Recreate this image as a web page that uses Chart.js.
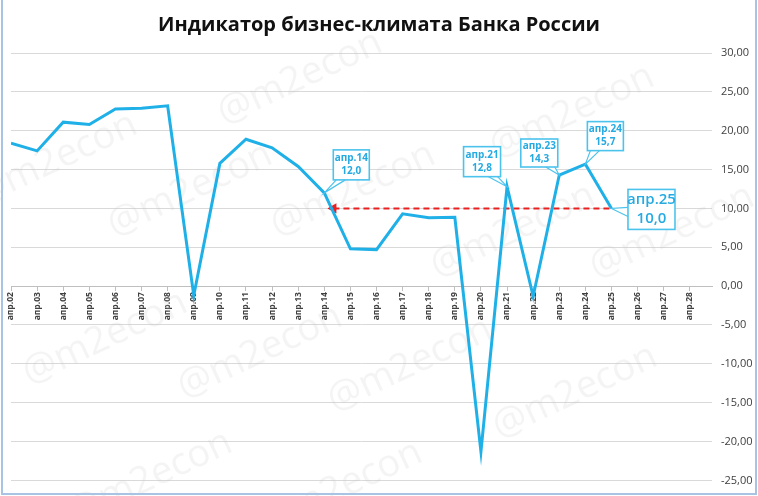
<!DOCTYPE html>
<html>
<head>
<meta charset="utf-8">
<script src="https://cdn.jsdelivr.net/npm/chart.js@4.4.1/dist/chart.umd.min.js"></script>
<style>
  html, body { margin: 0; padding: 0; background: #fff; }
</style>
</head>
<body>
<canvas id="myChart" width="758" height="496"></canvas>
<script>
// годы (апрель каждого года) и значения индикатора
var years = [2, 3, 4, 5, 6, 7, 8, 9, 10, 11, 12, 13, 14, 15, 16, 17, 18, 19, 20, 21, 22, 23, 24, 25];
var values = [18.4, 17.4, 21.1, 20.8, 22.8, 22.9, 23.2, -1.2, 15.8, 18.9, 17.8, 15.4, 12.0,
              4.8, 4.7, 9.3, 8.8, 8.85, -21.3, 12.8, -1.3, 14.3, 15.7, 10.0];
var tickYears = [2, 3, 4, 5, 6, 7, 8, 9, 10, 11, 12, 13, 14, 15, 16, 17, 18, 19, 20, 21, 22, 23, 24, 25, 26, 27, 28];
// красная пунктирная линия уровня
var refFrom = [14.35, 10.0];
var refTo = [25, 10.0];
// подписи-выноски
var calloutYears = [14, 21, 23, 24, 25];

var title = 'Индикатор бизнес-климата Банка России';
var lineColor = '#1fb0e8';

function pad(n) { return (n < 10 ? '0' : '') + n; }
function fmt(v, d) { return v.toFixed(d).replace('.', ','); }

// положение выносок относительно точки (смещение центра, размеры)
var calloutStyle = {
    14: { dx: 27, dy: -28, w: 36, h: 30, side: 'bottom', font: 10 },
    21: { dx: -25, dy: -25, w: 37, h: 30, side: 'bottom', font: 10 },
    23: { dx: -20, dy: -22, w: 37, h: 28, side: 'bottom', font: 10 },
    24: { dx: 20, dy: -28, w: 36, h: 29, side: 'bottom', font: 10 },
    25: { dx: 40, dy: 1, w: 47, h: 40, side: 'left', font: 15 }
};

var watermarks = [[300, 78], [55, 160], [190, 190], [353, 190], [572, 112], [513, 231], [672, 232],
                  [105, 338], [260, 352], [410, 365], [150, 478], [340, 488], [575, 392]];

var bgPlugin = {
    id: 'bg',
    beforeDatasetsDraw: function (chart) {
        var ctx = chart.ctx;
        ctx.save();
        ctx.fillStyle = 'rgba(200,200,200,0.2)';
        ctx.font = '38px "Open Sans", sans-serif';
        ctx.textAlign = 'center';
        ctx.textBaseline = 'middle';
        watermarks.forEach(function (w) {
            ctx.save();
            ctx.translate(w[0], w[1]);
            ctx.rotate(-25 * Math.PI / 180);
            ctx.fillText('@m2econ', 0, 0);
            ctx.restore();
        });
        ctx.restore();
    },
    afterDraw: function (chart) {
        var ctx = chart.ctx;
        ctx.save();
        // заголовок
        ctx.fillStyle = '#111';
        ctx.font = 'bold 20px "Open Sans", sans-serif';
        ctx.textAlign = 'center';
        ctx.textBaseline = 'middle';
        ctx.fillText(title, 379, 25);
        // рамка
        ctx.strokeStyle = '#a9c3e3';
        ctx.lineWidth = 2;
        ctx.beginPath();
        ctx.moveTo(2, 0); ctx.lineTo(2, 494); ctx.lineTo(756, 494); ctx.lineTo(756, 0);
        ctx.stroke();
        ctx.restore();
    }
};

var calloutPlugin = {
    id: 'callouts',
    afterDatasetsDraw: function (chart) {
        var ctx = chart.ctx, xs = chart.scales.x, ys = chart.scales.y;
        ctx.save();
        calloutYears.forEach(function (yr) {
            var c = calloutStyle[yr];
            var v = values[years.indexOf(yr)];
            var px = xs.getPixelForValue(yr), py = ys.getPixelForValue(v);
            var cx = px + c.dx, cy = py + c.dy;
            var bx = cx - c.w / 2, by = cy - c.h / 2;
            var a, b;
            if (c.side === 'bottom') {
                var sx = Math.min(Math.max(px - 4, bx + 3), bx + c.w - 12);
                a = [sx, by + c.h]; b = [sx + 9, by + c.h];
            } else {
                a = [bx, cy - 2]; b = [bx, cy + 7];
            }
            ctx.strokeStyle = '#4cc3ec';
            ctx.lineWidth = 1.2;
            ctx.fillStyle = '#fff';
            ctx.beginPath();
            ctx.moveTo(a[0], a[1]); ctx.lineTo(px, py); ctx.lineTo(b[0], b[1]); ctx.closePath();
            ctx.fill();
            ctx.beginPath();
            ctx.moveTo(a[0], a[1]); ctx.lineTo(px, py); ctx.lineTo(b[0], b[1]);
            ctx.stroke();
            ctx.fillRect(bx, by, c.w, c.h);
            ctx.lineWidth = 1.6;
            ctx.strokeRect(bx, by, c.w, c.h);
            ctx.fillStyle = '#25aae2';
            ctx.font = (c.font > 12 ? '600 ' : 'bold ') + c.font + 'px "Open Sans", sans-serif';
            ctx.textAlign = 'center';
            ctx.textBaseline = 'middle';
            var lh = c.font * 1.3;
            ctx.fillText('апр.' + pad(yr), cx, cy - lh / 2);
            ctx.fillText(fmt(v, 1), cx, cy + lh / 2);
        });
        ctx.restore();
    }
};

var points = years.map(function (y, i) { return { x: y, y: values[i] }; });

var ctx = document.getElementById('myChart').getContext('2d');
var chart = new Chart(ctx, {
    type: 'line',
    data: {
        datasets: [{
            label: 'Индикатор',
            data: points,
            borderColor: lineColor,
            borderWidth: 3,
            pointRadius: 0,
            tension: 0,
            order: 1
        }, {
            label: 'Уровень',
            data: [{ x: refFrom[0], y: refFrom[1] }, { x: refTo[0], y: refTo[1] }],
            borderColor: '#e8201f',
            backgroundColor: '#e8201f',
            borderWidth: 2,
            borderDash: [6, 4],
            pointStyle: 'triangle',
            pointRotation: -90,
            pointRadius: [4, 0],
            order: 2
        }]
    },
    options: {
        responsive: false,
        animation: false,
        layout: { padding: { top: 53, left: 11, right: 0, bottom: 10 } },
        plugins: {
            legend: { display: false },
            tooltip: { enabled: false },
            title: { display: false }
        },
        scales: {
            x: {
                type: 'linear',
                min: 2,
                max: 28.85,
                position: { y: 0 },
                afterBuildTicks: function (s) {
                    s.ticks = tickYears.map(function (y) { return { value: y }; });
                },
                afterFit: function (s) { s.height = 0; },
                grid: { drawOnChartArea: false, drawTicks: true, tickLength: 4, color: '#bfbfbf' },
                border: { color: '#bfbfbf', width: 1 },
                ticks: {
                    autoSkip: false,
                    minRotation: 90,
                    maxRotation: 90,
                    padding: 2,
                    color: '#404040',
                    font: { size: 8.5, family: '"Open Sans", sans-serif', weight: 'bold' },
                    callback: function (v) { return 'апр.' + pad(v); }
                }
            },
            y: {
                position: 'right',
                min: -25,
                max: 30,
                afterFit: function (s) { s.width = 46; },
                grid: { color: '#d9d9d9', lineWidth: 1, drawTicks: false },
                border: { display: false },
                ticks: {
                    stepSize: 5,
                    padding: 9,
                    color: '#404040',
                    font: { size: 11, family: '"Open Sans", sans-serif' },
                    callback: function (v) { return fmt(v, 2); }
                }
            }
        }
    },
    plugins: [bgPlugin, calloutPlugin]
});
</script>
</body>
</html>
